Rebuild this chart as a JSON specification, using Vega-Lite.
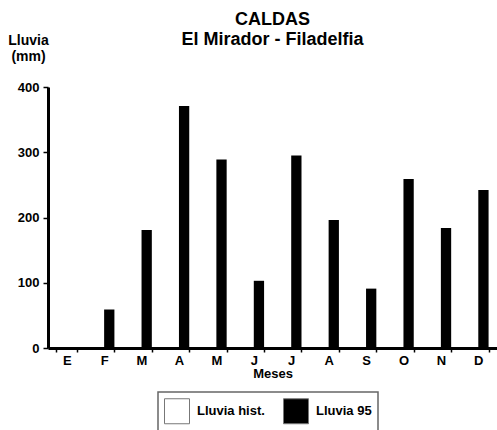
{
  "$schema": "https://vega.github.io/schema/vega-lite/v6.json",
  "width": 449,
  "height": 261,
  "autosize": {"type": "none"},
  "padding": {"left": 48, "top": 87, "right": 0, "bottom": 82},
  "background": "white",
  "config": {"view": {"stroke": null}, "font": "Liberation Sans"},
  "title": {
    "text": ["CALDAS", "El Mirador - Filadelfia"],
    "font": "Liberation Sans",
    "fontSize": 18,
    "fontWeight": "bold",
    "lineHeight": 20,
    "anchor": "middle",
    "frame": "group",
    "offset": -16,
    "color": "black"
  },
  "data": {
    "values": [
      {"mes": "Ene", "serie": "Lluvia 95", "lluvia": 0},
      {"mes": "Feb", "serie": "Lluvia 95", "lluvia": 59},
      {"mes": "Mar", "serie": "Lluvia 95", "lluvia": 181},
      {"mes": "Abr", "serie": "Lluvia 95", "lluvia": 371},
      {"mes": "May", "serie": "Lluvia 95", "lluvia": 289},
      {"mes": "Jun", "serie": "Lluvia 95", "lluvia": 103},
      {"mes": "Jul", "serie": "Lluvia 95", "lluvia": 295},
      {"mes": "Ago", "serie": "Lluvia 95", "lluvia": 196},
      {"mes": "Sep", "serie": "Lluvia 95", "lluvia": 91},
      {"mes": "Oct", "serie": "Lluvia 95", "lluvia": 259},
      {"mes": "Nov", "serie": "Lluvia 95", "lluvia": 184},
      {"mes": "Dic", "serie": "Lluvia 95", "lluvia": 242}
    ]
  },
  "mark": {"type": "bar", "color": "black"},
  "encoding": {
    "x": {
      "field": "mes",
      "type": "nominal",
      "sort": null,
      "scale": {
        "domain": ["Ene", "Feb", "Mar", "Abr", "May", "Jun", "Jul", "Ago", "Sep", "Oct", "Nov", "Dic"],
        "paddingInner": 0.45,
        "paddingOuter": 0.225
      },
      "axis": {
        "title": "Meses",
        "titleFont": "Liberation Sans",
        "titleFontSize": 13,
        "titleFontWeight": "bold",
        "titleColor": "black",
        "titlePadding": 0,
        "labelExpr": "substring(datum.label, 0, 1)",
        "labelAngle": 0,
        "labelFont": "Liberation Sans",
        "labelFontSize": 13,
        "labelFontWeight": "bold",
        "labelColor": "black",
        "labelPadding": 2,
        "tickBand": "extent",
        "tickSize": 4,
        "tickWidth": 1.5,
        "tickColor": "black",
        "domainColor": "black",
        "domainWidth": 3,
        "grid": false
      }
    },
    "xOffset": {
      "field": "serie",
      "type": "nominal",
      "scale": {"domain": ["Lluvia hist.", "Lluvia 95"], "paddingInner": 0, "paddingOuter": 0}
    },
    "y": {
      "field": "lluvia",
      "type": "quantitative",
      "scale": {"domain": [0, 400], "nice": false},
      "axis": {
        "title": ["Lluvia", "(mm)"],
        "titleAngle": 0,
        "titleAlign": "center",
        "titleBaseline": "alphabetic",
        "titleX": -20,
        "titleY": -43,
        "titleLineHeight": 16,
        "titleFont": "Liberation Sans",
        "titleFontSize": 14,
        "titleFontWeight": "bold",
        "titleColor": "black",
        "values": [0, 100, 200, 300, 400],
        "labelFont": "Liberation Sans",
        "labelFontSize": 13,
        "labelFontWeight": "bold",
        "labelColor": "black",
        "labelPadding": 4,
        "tickSize": 5,
        "tickWidth": 1.5,
        "tickColor": "black",
        "domainColor": "black",
        "domainWidth": 3,
        "grid": false
      }
    },
    "color": {
      "field": "serie",
      "type": "nominal",
      "scale": {"domain": ["Lluvia hist.", "Lluvia 95"], "range": ["white", "black"]},
      "legend": {
        "title": null,
        "orient": "none",
        "legendX": 110,
        "legendY": 305,
        "direction": "horizontal",
        "symbolType": "square",
        "symbolSize": 625,
        "symbolStrokeColor": "#777777",
        "symbolStrokeWidth": 1,
        "symbolOpacity": 1,
        "labelFont": "Liberation Sans",
        "labelFontSize": 13,
        "labelFontWeight": "bold",
        "labelColor": "black",
        "labelOffset": 7,
        "columnPadding": 16,
        "padding": 6,
        "strokeColor": "#666666",
        "fillColor": "white",
        "cornerRadius": 0,
        "encode": {"legend": {"update": {"strokeWidth": {"value": 1.5}}}}
      }
    }
  }
}
